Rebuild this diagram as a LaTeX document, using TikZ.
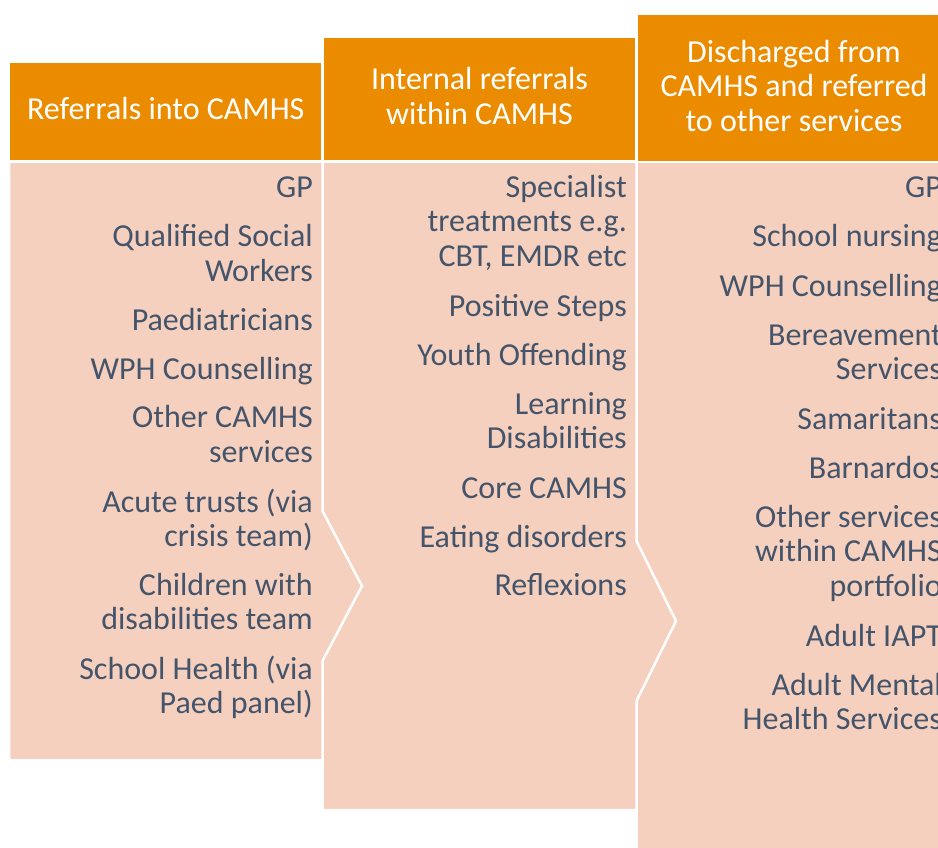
\documentclass[tikz,border=0pt]{standalone}
\usepackage{fontspec}
\setmainfont{Carlito}
\definecolor{hdr}{RGB}{235,140,0}
\definecolor{bdy}{RGB}{246,208,190}
\definecolor{txt}{RGB}{68,84,106}
\begin{document}
\begin{tikzpicture}[x=1pt,y=-1pt,
  hdrbox/.style={fill=hdr,draw=white,line width=2.5pt,line join=miter},
  bodybox/.style={fill=bdy,draw=white,line width=2.5pt,line join=miter},
  htext/.style={text=white,font=\fontsize{32}{35}\selectfont,align=center,inner sep=0pt,anchor=base},
  item/.style={text=txt,font=\fontsize{32}{34.7}\selectfont,align=right,inner sep=0pt,anchor=base east}]
\fill[white] (0,0) rectangle (938,848);
\clip (0,0) rectangle (938,848);
% bodies (back to front)
\path[bodybox] (636.5,162) rectangle (960,870);
\path[bodybox] (322.5,161.5) -- (636.5,161.5) -- (636.5,541) -- (676,621) -- (636.5,701)
  -- (636.5,810) -- (322.5,810) -- cycle;
\path[bodybox] (9,161.5) -- (322.5,161.5) -- (322.5,511) -- (362,586) -- (322.5,661)
  -- (322.5,760) -- (9,760) -- cycle;
% headers
\path[hdrbox] (9,62) rectangle (322.5,161.5);
\path[hdrbox] (322.5,37) rectangle (636.5,161.5);
\path[hdrbox] (636.5,13.5) rectangle (960,162);
% (multi-line nodes: base anchor is the baseline of the last line)
\node[htext] (h1) at (165.75,120) {Referrals into CAMHS};
\node[htext] (h2) at (479.5,125) {Internal referrals\\within CAMHS};
\node[htext] (h3) at (794,132) {Discharged from\\CAMHS and referred\\to other services};
% column 1
\node[item] (a1) at (313,197) {GP};
\node[item] (a2) at (313,281.2) {Qualified Social\\Workers};
\node[item] (a3) at (313,330) {Paediatricians};
\node[item] (a4) at (313,379) {WPH Counselling};
\node[item] (a5) at (313,462.2) {Other CAMHS\\services};
\node[item] (a6) at (313,546.7) {Acute trusts (via\\crisis team)};
\node[item] (a7) at (313,629.7) {Children with\\disabilities team};
\node[item] (a8) at (313,713.7) {School Health (via\\Paed panel)};
% column 2
\node[item] (b1) at (627,266.4) {Specialist\\treatments e.g.\\CBT, EMDR etc};
\node[item] (b2) at (627,316) {Positive Steps};
\node[item] (b3) at (627,365) {Youth Offending};
\node[item] (b4) at (627,448.7) {Learning\\Disabilities};
\node[item] (b5) at (627,498) {Core CAMHS};
\node[item] (b6) at (627,547) {Eating disorders};
\node[item] (b7) at (627,595) {Reflexions};
% column 3
\node[item] (c1) at (942,197) {GP};
\node[item] (c2) at (942,246.5) {School nursing};
\node[item] (c3) at (942,296) {WPH Counselling};
\node[item] (c4) at (942,379.7) {Bereavement\\Services};
\node[item] (c5) at (942,429) {Samaritans};
\node[item] (c6) at (942,478) {Barnardos};
\node[item] (c7) at (942,596.4) {Other services\\within CAMHS\\portfolio};
\node[item] (c8) at (942,646) {Adult IAPT};
\node[item] (c9) at (942,729.7) {Adult Mental\\Health Services};
\end{tikzpicture}
\end{document}
